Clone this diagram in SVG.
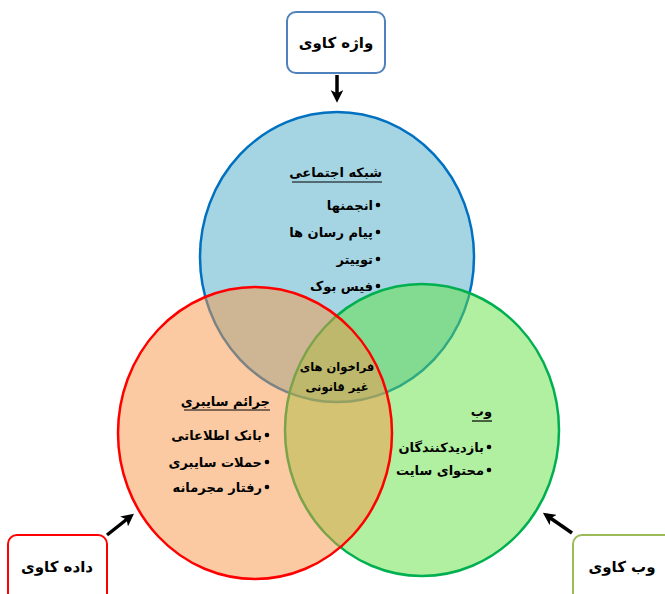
<svg xmlns="http://www.w3.org/2000/svg" width="665" height="594" viewBox="0 0 665 594">
<style>
  text { font-family: "DejaVu Sans", "Noto Sans", sans-serif; font-weight: bold; font-size: 13px; fill: #000; }
  .r { text-anchor: end; }
  .c { text-anchor: middle; }
  .mid { font-size: 11.5px; }
  .big { font-size: 15px; }
  .ul { stroke: #000; stroke-width: 1.2; }
  .box { fill: #fff; stroke-width: 2; }
  .dot { fill: #000; }
  .arr { stroke: #000; stroke-width: 3.5; fill: none; marker-end: url(#ah); }
</style>
<defs>
  <marker id="ah" viewBox="0 0 10 10" refX="7" refY="5" markerWidth="3.6" markerHeight="3.6" orient="auto" markerUnits="strokeWidth">
    <path d="M0,0 L10,5 L0,10 L2.5,5 Z" fill="#000"/>
  </marker>
</defs>
<rect width="665" height="594" fill="#fff"/>

<g id="circle-social">
  <ellipse cx="337" cy="257" rx="137" ry="145" fill="#4BACC6" fill-opacity="0.5" stroke="#0070C0" stroke-width="2.5"/>
</g>
<g id="circle-web">
  <ellipse cx="422" cy="430" rx="137" ry="146" fill="#61E141" fill-opacity="0.5" stroke="#00B050" stroke-width="2.5"/>
</g>
<g id="circle-crime">
  <ellipse cx="255" cy="433" rx="137" ry="146" fill="#F79646" fill-opacity="0.5" stroke="#FF0000" stroke-width="2.5"/>
</g>

<g id="social-text">
  <text x="382" y="177" class="r">شبکه اجتماعی</text>
  <line x1="292" y1="182" x2="382" y2="182" class="ul"/>
  <circle cx="378" cy="205" r="2.3" class="dot"/>
  <text x="373" y="210" class="r">انجمنها</text>
  <circle cx="378" cy="232" r="2.3" class="dot"/>
  <text x="373" y="237" class="r">پیام رسان ها</text>
  <circle cx="378" cy="259" r="2.3" class="dot"/>
  <text x="373" y="264" class="r">توییتر</text>
  <circle cx="378" cy="286" r="2.3" class="dot"/>
  <text x="373" y="291" class="r">فیس بوک</text>
</g>

<g id="crime-text">
  <text x="270" y="406" class="r">جرائم سایبری</text>
  <line x1="184" y1="410" x2="270" y2="410" class="ul"/>
  <circle cx="267" cy="435" r="2.3" class="dot"/>
  <text x="262" y="440" class="r">بانک اطلاعاتی</text>
  <circle cx="267" cy="462" r="2.3" class="dot"/>
  <text x="262" y="467" class="r">حملات سایبری</text>
  <circle cx="267" cy="487" r="2.3" class="dot"/>
  <text x="262" y="492" class="r">رفتار مجرمانه</text>
</g>

<g id="web-text">
  <text x="492" y="416" class="r">وب</text>
  <line x1="472" y1="421" x2="492" y2="421" class="ul"/>
  <circle cx="489" cy="447" r="2.3" class="dot"/>
  <text x="484" y="452" class="r">بازدیدکنندگان</text>
  <circle cx="489" cy="470" r="2.3" class="dot"/>
  <text x="484" y="475" class="r">محتوای سایت</text>
</g>

<g id="center-text">
  <text x="337" y="371" class="c mid">فراخوان های</text>
  <text x="337" y="391" class="c mid">غیر قانونی</text>
</g>

<g id="box-word">
  <rect x="287" y="12" width="98" height="61" rx="9" class="box" stroke="#4F81BD"/>
  <text x="336" y="48" class="c big">واژه کاوی</text>
</g>
<g id="box-data">
  <rect x="8" y="535" width="99" height="70" rx="9" class="box" stroke="#FF0000"/>
  <text x="57" y="572" class="c big">داده کاوی</text>
</g>
<g id="box-webmining">
  <rect x="573" y="535" width="110" height="70" rx="9" class="box" stroke="#9BBB59"/>
  <text x="622" y="572" class="c big">وب کاوی</text>
</g>

<g id="connectors">
  <line x1="337" y1="75" x2="337" y2="99" class="arr"/>
  <line x1="107" y1="535" x2="131" y2="516" class="arr"/>
  <line x1="572" y1="533" x2="546" y2="515" class="arr"/>
</g>
</svg>
